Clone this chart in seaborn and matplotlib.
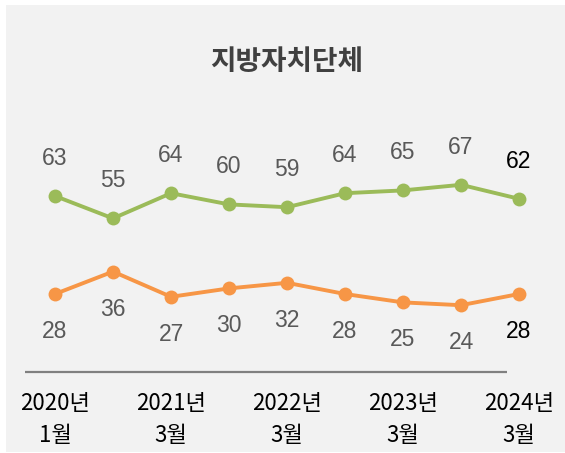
import numpy as np
import pandas as pd
import matplotlib
matplotlib.use('Agg')
import matplotlib.pyplot as plt
from matplotlib.patches import Rectangle
import seaborn as sns

# Datos
periodos = ["2020-01", "2020-07", "2021-03", "2021-09", "2022-03",
            "2022-09", "2023-03", "2023-09", "2024-03"]
positivo = [63, 55, 64, 60, 59, 64, 65, 67, 62]
negativo = [28, 36, 27, 30, 32, 28, 25, 24, 28]
etiquetas_x = ["2020년\n1월", "2021년\n3월", "2022년\n3월", "2023년\n3월", "2024년\n3월"]
titulo = "지방자치단체"

verde = "#9BBB59"
naranja = "#F79646"
gris_txt = "#595959"

sns.set_style("white")
plt.rcParams['font.family'] = ['Liberation Sans', 'Noto Sans CJK KR']

df = pd.DataFrame({"x": np.arange(len(periodos)), "pos": positivo, "neg": negativo})

fig = plt.figure(figsize=(5.65, 4.53), dpi=100)
ax = fig.add_axes([0, 0, 1, 1])
ax.patch.set_alpha(0)
ax.add_patch(Rectangle((6 / 565, 1 / 453), 559 / 565, 447 / 453,
                       transform=fig.transFigure, facecolor="#F2F2F2",
                       edgecolor="none", zorder=-10))

sns.lineplot(data=df, x="x", y="pos", color=verde, lw=2.8, marker="o",
             markersize=10, markeredgewidth=0, ax=ax)
sns.lineplot(data=df, x="x", y="neg", color=naranja, lw=2.8, marker="o",
             markersize=10, markeredgewidth=0, ax=ax)

ultimo = len(periodos) - 1
for i, (p, n) in enumerate(zip(positivo, negativo)):
    es_ult = i == ultimo
    col = "black" if es_ult else gris_txt
    ax.annotate(str(p), (i, p), xytext=(0, 27), textcoords="offset points",
                ha="center", va="center", fontsize=16.5, color=col)
    ax.annotate(str(n), (i, n), xytext=(0, -27), textcoords="offset points",
                ha="center", va="center", fontsize=16.5, color=col)

ax.set_xlim(-55 / 58, 510 / 58)
ax.set_ylim(-80.6 / 2.8, 372.4 / 2.8)
ax.hlines(0, -30 / 58, 452 / 58, color="#808080", lw=1.6)

for k, lab in enumerate(etiquetas_x):
    ax.text(2 * k, -7.0, lab, ha="center", va="top", fontsize=16,
            linespacing=1.5, color="black",
            family=['Liberation Sans Narrow', 'Noto Sans CJK KR'])

ax.text(4, 111, titulo, ha="center", va="center", fontsize=20,
        color="#404040", fontweight="bold", family=['Noto Sans CJK KR'])

ax.set_axis_off()
fig.savefig("out.png", dpi=100)
